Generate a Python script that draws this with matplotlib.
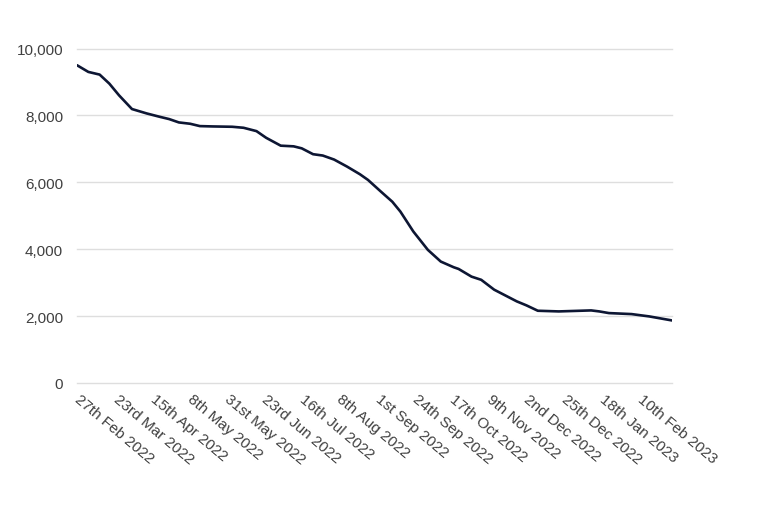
import numpy as np
import pandas as pd
import matplotlib
matplotlib.use("Agg")
import matplotlib.pyplot as plt
import matplotlib.transforms as mtransforms
from matplotlib.ticker import FuncFormatter

start = pd.Timestamp("2022-02-27")

# days since 27th Feb 2022
day_offsets = [0, 7, 14, 20, 26, 34, 43, 51, 57, 63, 70, 76, 84, 96, 103, 111,
               117, 126, 134, 139, 146, 152, 159, 167, 175, 180, 188, 195, 200,
               208, 217, 225, 233, 236, 244, 250, 258, 264, 272, 278, 285, 298,
               318, 323, 329, 343, 354, 368]
values = [9500, 9300, 9220, 8950, 8600, 8190, 8060, 7960, 7890, 7790, 7750,
          7680, 7670, 7660, 7630, 7530, 7330, 7095, 7075, 7015, 6840, 6800,
          6680, 6470, 6240, 6070, 5720, 5420, 5125, 4530, 3980, 3630, 3460,
          3410, 3180, 3085, 2790, 2640, 2440, 2320, 2160, 2140, 2170, 2140,
          2090, 2060, 1990, 1870]

tick_labels = ["27th Feb 2022", "23rd Mar 2022", "15th Apr 2022", "8th May 2022",
               "31st May 2022", "23rd Jun 2022", "16th Jul 2022", "8th Aug 2022",
               "1st Sep 2022", "24th Sep 2022", "17th Oct 2022", "9th Nov 2022",
               "2nd Dec 2022", "25th Dec 2022", "18th Jan 2023", "10th Feb 2023"]

dates = [start + pd.Timedelta(days=d) for d in day_offsets]
tick_dates = [pd.Timestamp(t.replace("st ", " ").replace("nd ", " ")
                           .replace("rd ", " ").replace("th ", " "))
              for t in tick_labels]

plt.rcParams["font.family"] = ["Liberation Sans", "DejaVu Sans"]

fig = plt.figure(figsize=(7.74, 5.10), dpi=100)
ax = fig.add_axes([77 / 774, 1 - 384 / 510, (672 - 77) / 774, (384 - 49.5) / 510])

ax.plot(dates, values, color="#0d1633", lw=1.9, solid_capstyle="round")

ax.set_ylim(0, 10000)
ax.set_yticks(np.arange(0, 10001, 2000))
ax.yaxis.set_major_formatter(FuncFormatter(lambda v, p: f"{int(v):,}"))
ax.set_xlim(dates[0], dates[-1])
ax.set_xticks(tick_dates)
ax.set_xticklabels(tick_labels, rotation=-40, ha="left", va="top",
                   rotation_mode="anchor")

ax.grid(axis="y", color="#dedede", lw=1)
for gl in ax.get_ygridlines():
    gl.set_clip_on(False)
ax.set_axisbelow(True)
for s in ax.spines.values():
    s.set_visible(False)
ax.tick_params(axis="both", length=0, colors="#404040")
ax.tick_params(axis="x", pad=6, labelsize=11)
ax.tick_params(axis="y", pad=10, labelsize=11)

shift = mtransforms.ScaledTranslation(4 / 100, 0, fig.dpi_scale_trans)
for lab in ax.get_xticklabels():
    lab.set_transform(lab.get_transform() + shift)

fig.savefig("out.png", dpi=100)
